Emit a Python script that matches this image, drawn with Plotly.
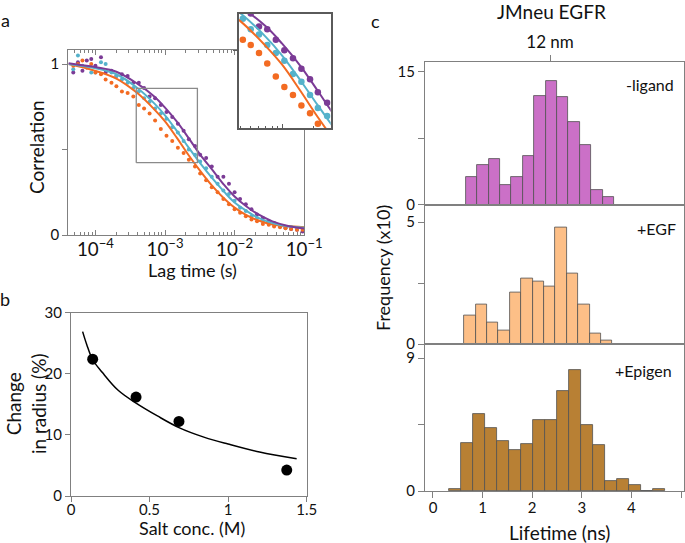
import math
import plotly.graph_objects as go

W, H = 685, 543
FONT = "Lato"

# ---------------- Panel a : FCS correlation ----------------
fit_lag = [4.1e-5, 1e-4, 2e-4, 4e-4, 7e-4, 1e-3, 1.5e-3, 2.2e-3, 3.2e-3, 4.7e-3,
           7e-3, 1e-2, 1.5e-2, 2.2e-2, 3.5e-2, 5.5e-2, 1.0e-1]
fit_purple = [1.005, 0.982, 0.955, 0.885, 0.81, 0.745, 0.66, 0.565, 0.47, 0.385,
              0.295, 0.225, 0.165, 0.12, 0.08, 0.056, 0.038]
fit_cyan = [1.0, 0.975, 0.94, 0.86, 0.77, 0.70, 0.605, 0.51, 0.42, 0.335,
            0.255, 0.19, 0.14, 0.10, 0.07, 0.052, 0.042]
fit_orange = [1.0, 0.96, 0.915, 0.83, 0.735, 0.665, 0.565, 0.465, 0.375, 0.29,
              0.215, 0.16, 0.115, 0.085, 0.062, 0.052, 0.046]

dot_lag = [4.8e-5, 5.6e-5, 6.5e-5, 7.5e-5, 8.7e-5, 1.0e-4, 1.2e-4, 1.4e-4, 1.7e-4, 2.0e-4,
           2.4e-4, 2.9e-4, 3.5e-4, 4.2e-4, 5.0e-4, 6.0e-4, 7.2e-4, 8.7e-4, 1.05e-3, 1.27e-3,
           1.53e-3, 1.85e-3, 2.2e-3, 2.7e-3, 3.2e-3, 3.9e-3, 4.7e-3, 5.7e-3, 6.9e-3, 8.3e-3,
           1.0e-2, 1.2e-2, 1.45e-2, 1.75e-2, 2.1e-2, 2.55e-2, 3.1e-2, 3.7e-2, 4.5e-2, 5.4e-2,
           6.5e-2, 7.9e-2, 9.5e-2]
dot_purple = [0.95, 1.01, 0.96, 1.02, 1.03, 0.99, 1.04, 0.95, 0.96, 0.93,
              0.94, 0.93, 0.89, 0.89, 0.86, 0.81, 0.80, 0.76, 0.72, 0.69,
              0.65, 0.61, 0.56, 0.52, 0.47, 0.45, 0.40, 0.34, 0.34, 0.30,
              0.25, 0.21, 0.18, 0.15, 0.12, 0.10, 0.08, 0.07, 0.05, 0.045,
              0.035, 0.03, 0.02]
dot_cyan = [0.97, 1.05, 0.99, 0.98, 0.95, 0.95, 1.01, 1.0, 0.95, 0.93,
            0.91, 0.89, 0.86, 0.84, 0.80, 0.78, 0.74, 0.71, 0.68, 0.63,
            0.60, 0.55, 0.50, 0.47, 0.43, 0.39, 0.34, 0.30, 0.26, 0.24,
            0.20, 0.16, 0.14, 0.11, 0.10, 0.08, 0.065, 0.06, 0.05, 0.04,
            0.045, 0.035, 0.04]
dot_orange = [0.99, 1.0, 1.02, 0.98, 1.0, 0.95, 0.94, 0.91, 0.89, 0.87,
              0.84, 0.83, 0.81, 0.76, 0.74, 0.71, 0.67, 0.62, 0.58, 0.55,
              0.51, 0.48, 0.44, 0.40, 0.36, 0.32, 0.28, 0.25, 0.21, 0.18,
              0.15, 0.13, 0.11, 0.09, 0.08, 0.065, 0.06, 0.05, 0.045, 0.04,
              0.035, 0.03, 0.03]

lag_range = [4.07e-5, 0.1005]
corr_range = [0, 1.082]
inset_lag_range = [3.86e-4, 2.92e-3]
inset_corr_range = [0.423, 0.858]

# ---------------- Panel b : salt dependence ----------------
salt_conc = [0.138, 0.414, 0.687, 1.373]
radius_change = [22.4, 16.2, 12.2, 4.25]
salt_fit_x = [0.074, 0.10, 0.138, 0.2, 0.3, 0.414, 0.55, 0.687, 0.85, 1.0, 1.2, 1.436]
salt_fit_y = [26.9, 24.8, 22.3, 20.2, 17.3, 15.2, 13.1, 11.2, 9.6, 8.5, 7.2, 6.1]

# ---------------- Panel c : lifetime histograms ----------------
ligand_start, ligand_width = -0.031, 0.230
ligand_counts = [0, 0, 0, 3.1, 4.5, 5.1, 2.2, 3.1, 5.5, 12.3, 14.0, 12.2, 9.3, 6.7, 1.6, 0.8,
                 0, 0, 0, 0, 0, 0]
egf_start, egf_width = -0.057, 0.2295
egf_counts = [0, 0, 0, 1.17, 1.61, 0.87, 0.56, 2.13, 2.67, 2.56, 2.34, 4.77, 2.89, 1.61, 0.44,
              0.14, 0, 0, 0, 0, 0, 0]
epigen_start, epigen_width = 0.329, 0.241
epigen_counts = [0.11, 3.27, 5.19, 4.29, 3.41, 2.80, 3.21, 4.81, 4.81, 6.79, 8.19, 4.49, 3.12,
                 0.68, 0.81, 0.43, 0, 0.11]
nm12_lifetime = 2.36
life_range = [-0.161, 5.06]

PURPLE, CYAN, ORANGE = "#7B3B96", "#55B2CB", "#F36B22"


def px_x(p):
    return p / W


def px_y(p):
    return 1 - p / H


fig = go.Figure()

# Panel a traces (main)
for lag, vals, col in [(dot_lag, dot_purple, PURPLE), (dot_lag, dot_cyan, CYAN), (dot_lag, dot_orange, ORANGE)]:
    fig.add_trace(go.Scatter(x=lag, y=vals, mode="markers", marker=dict(size=4, color=col),
                             xaxis="x", yaxis="y", showlegend=False))
for vals, col in [(fit_orange, ORANGE), (fit_cyan, CYAN), (fit_purple, PURPLE)]:
    fig.add_trace(go.Scatter(x=fit_lag, y=vals, mode="lines", line=dict(color=col, width=2, shape="spline"),
                             xaxis="x", yaxis="y", showlegend=False))
# zoom box
bx = [inset_lag_range[0], inset_lag_range[1], inset_lag_range[1], inset_lag_range[0], inset_lag_range[0]]
by = [inset_corr_range[0], inset_corr_range[0], inset_corr_range[1], inset_corr_range[1], inset_corr_range[0]]
fig.add_trace(go.Scatter(x=bx, y=by, mode="lines", line=dict(color="#8a8a8a", width=1.3),
                         xaxis="x", yaxis="y", showlegend=False))

# Inset traces
for lag, vals, col in [(dot_lag, dot_purple, PURPLE), (dot_lag, dot_cyan, CYAN), (dot_lag, dot_orange, ORANGE)]:
    fig.add_trace(go.Scatter(x=lag, y=vals, mode="markers", marker=dict(size=6.5, color=col),
                             xaxis="x2", yaxis="y2", showlegend=False))
for vals, col in [(fit_orange, ORANGE), (fit_cyan, CYAN), (fit_purple, PURPLE)]:
    fig.add_trace(go.Scatter(x=fit_lag, y=vals, mode="lines", line=dict(color=col, width=2, shape="spline"),
                             xaxis="x2", yaxis="y2", showlegend=False))

# Panel b
fig.add_trace(go.Scatter(x=salt_fit_x, y=salt_fit_y, mode="lines", line=dict(color="black", width=1.5, shape="spline"),
                         xaxis="x3", yaxis="y3", showlegend=False))
fig.add_trace(go.Scatter(x=salt_conc, y=radius_change, mode="markers", marker=dict(size=11, color="black"),
                         xaxis="x3", yaxis="y3", showlegend=False))

# Panel c
for start, width, counts, col, ax in [
        (ligand_start, ligand_width, ligand_counts, "#CB70C7", "4"),
        (egf_start, egf_width, egf_counts, "#FDBF87", "5"),
        (epigen_start, epigen_width, epigen_counts, "#B88034", "6")]:
    centers = [start + (i + 0.5) * width for i in range(len(counts))]
    fig.add_trace(go.Bar(x=centers, y=counts, width=width,
                         marker=dict(color=col, line=dict(color="#505050", width=0.8)),
                         xaxis="x" + ax, yaxis="y" + ax, showlegend=False))

frame = "#808080"
tickfont = dict(family=FONT, size=15, color="#111")
common = dict(showgrid=False, zeroline=False, automargin=False)


def mid_minor(v, length=6):
    return dict(tickvals=[v], ticks="outside", ticklen=length, tickcolor=frame, showgrid=False)


fig.update_layout(
    width=W, height=H, margin=dict(l=0, r=0, t=0, b=0, autoexpand=False),
    paper_bgcolor="white", plot_bgcolor="white",
    font=dict(family=FONT, color="#111"),
    bargap=0, showlegend=False,
    xaxis=dict(type="log", domain=[px_x(68.3), px_x(304.3)],
               range=[math.log10(lag_range[0]), math.log10(lag_range[1])],
               showline=True, linecolor=frame, mirror="allticks", ticks="inside", ticklen=5,
               tickcolor=frame, dtick=1, exponentformat="power", showexponent="all",
               tickfont=tickfont, ticklabelstandoff=-2,
               minor=dict(ticks="inside", ticklen=3, tickcolor=frame, showgrid=False), **common),
    yaxis=dict(domain=[px_y(235), px_y(50)], range=corr_range, showline=True, linecolor=frame,
               mirror=True, ticks="outside", ticklen=5, tickcolor=frame,
               tickvals=[0, 1], tickfont=tickfont, minor=mid_minor(0.5, 5), **common),
    xaxis2=dict(type="log", domain=[px_x(239), px_x(330.7)], anchor="y2",
                range=[math.log10(inset_lag_range[0]), math.log10(inset_lag_range[1])],
                showline=True, linecolor="#5a5a5a", linewidth=1.5, mirror=True,
                ticks="inside", ticklen=5, tickcolor="#5a5a5a", dtick=1, showticklabels=False,
                minor=dict(ticks="inside", ticklen=3, tickcolor="#5a5a5a", showgrid=False), **common),
    yaxis2=dict(domain=[px_y(128.3), px_y(14)], anchor="x2", range=inset_corr_range,
                showline=True, linecolor="#5a5a5a", linewidth=1.5, mirror=True,
                ticks="outside", ticklen=4, tickcolor="#5a5a5a", tickvals=[0.72],
                showticklabels=False, **common),
    xaxis3=dict(domain=[px_x(71), px_x(306.7)], anchor="y3", range=[0, 1.5],
                showline=True, linecolor=frame, mirror=True, ticks="outside", ticklen=5,
                tickcolor=frame, tickvals=[0, 0.5, 1, 1.5], ticktext=["0", "0.5", "1", "1.5"],
                tickfont=tickfont, ticklabelstandoff=-5, **common),
    yaxis3=dict(domain=[px_y(496), px_y(312.7)], anchor="x3", range=[0, 30],
                showline=True, linecolor=frame, mirror=True, ticks="outside", ticklen=5,
                tickcolor=frame, tickvals=[0, 10, 20, 30], tickfont=tickfont, **common),
    xaxis4=dict(domain=[px_x(425), px_x(684)], anchor="y4", range=life_range, side="top",
                showline=True, linecolor=frame, mirror=True, ticks="outside", ticklen=6,
                tickcolor=frame, tickvals=[nm12_lifetime], ticktext=["12 nm"],
                tickfont=dict(family=FONT, size=17, color="#111"), **common),
    yaxis4=dict(domain=[px_y(204.5), px_y(62)], anchor="x4", range=[0, 16.13],
                showline=True, linecolor=frame, mirror=True, ticks="outside", ticklen=6,
                tickcolor=frame, tickvals=[0, 15], tickfont=tickfont, minor=mid_minor(7.5), **common),
    xaxis5=dict(domain=[px_x(425), px_x(684)], anchor="y5", range=life_range,
                showline=True, linecolor=frame, mirror=True, ticks="", showticklabels=False, **common),
    yaxis5=dict(domain=[px_y(344), px_y(204.5)], anchor="x5", range=[0, 5.72],
                showline=True, linecolor=frame, mirror=True, ticks="outside", ticklen=6,
                tickcolor=frame, tickvals=[0, 5], tickfont=tickfont, minor=mid_minor(2.5), **common),
    xaxis6=dict(domain=[px_x(425), px_x(684)], anchor="y6", range=life_range,
                showline=True, linecolor=frame, mirror=True, ticks="outside", ticklen=6,
                tickcolor=frame, tickvals=[0, 1, 2, 3, 4, 5], tickfont=tickfont,
                ticklabelstandoff=-3, **common),
    yaxis6=dict(domain=[px_y(491), px_y(344)], anchor="x6", range=[0, 9.95],
                showline=True, linecolor=frame, mirror=True, ticks="outside", ticklen=6,
                tickcolor=frame, tickvals=[0, 9], tickfont=tickfont, minor=mid_minor(4.5), **common),
)


def label(text, x, y, size=19, angle=0):
    fig.add_annotation(text=text, x=px_x(x), y=px_y(y), xref="paper", yref="paper",
                       showarrow=False, xanchor="center", yanchor="middle", textangle=angle,
                       font=dict(family=FONT, size=size, color="#111"))


label("a", 5, 20, 18)
label("b", 5, 299, 18)
label("c", 375, 21, 18)
label("Correlation", 36, 147, 19, -90)
label("Lag time (s)", 192, 270, 18)
label("Change<br>in radius (%)", 26, 404, 19, -90)
label("Salt conc. (M)", 192, 528, 18)
label("JMneu EGFR", 551, 12, 19)
label("Frequency (x10)", 383, 268, 18, -90)
label("Lifetime (ns)", 559, 532, 19)
label("-ligand", 650, 84, 16)
label("+EGF", 656, 229, 16)
label("+Epigen", 643, 370, 16)

fig.write_html("out.html", config={"displayModeBar": False},
               post_script="document.body.style.margin='0';")
